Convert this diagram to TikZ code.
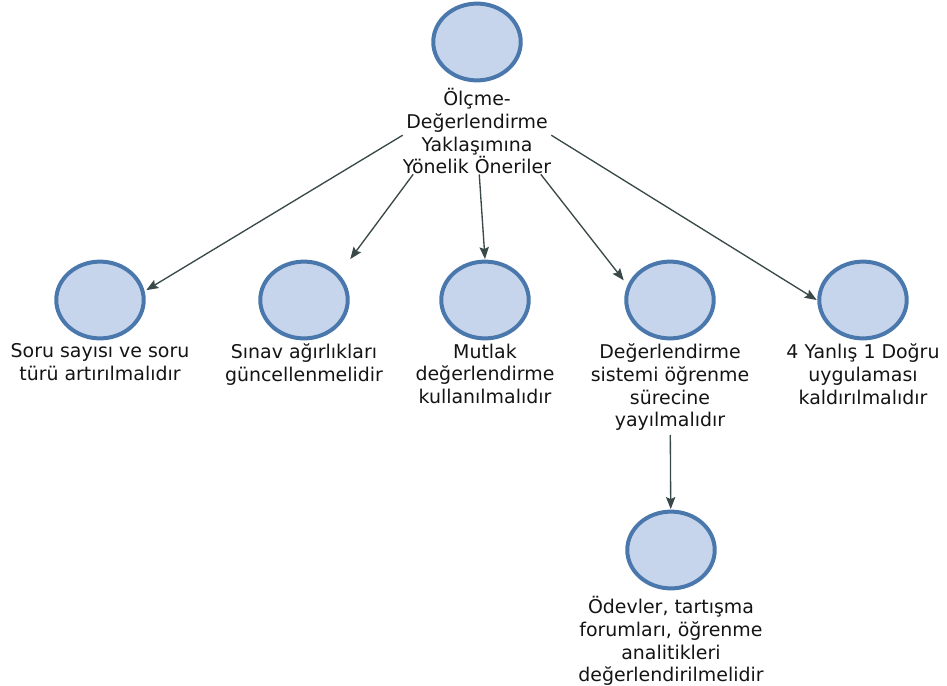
\documentclass[tikz,border=0pt]{standalone}
\usepackage{fontspec}
\setmainfont{DejaVu Sans}
\usetikzlibrary{positioning,arrows.meta}

\definecolor{bubfill}{HTML}{C6D5EB}
\definecolor{bubedge}{HTML}{4A78AC}
\definecolor{linkcol}{HTML}{394848}
\definecolor{txtcol}{HTML}{141414}

\tikzset{
  bubble/.style={rectangle, minimum width=69pt, minimum height=61pt, inner sep=0pt,
    path picture={\draw[fill=bubfill, draw=bubedge, line width=3pt]
      (path picture bounding box.center) ellipse (32.8pt and 28.8pt);}},
  caption/.style={align=center, inner sep=0pt, text=txtcol,
    font=\fontsize{14.2pt}{17pt}\selectfont},
  link/.style={draw=linkcol, line width=1pt,
    -{Stealth[length=9pt,width=7pt,inset=1.5pt]}}
}

\begin{document}
\begin{tikzpicture}[x=0.75pt,y=-0.75pt]
    \useasboundingbox (0,0) rectangle (947,686);

    % Main node
    \node[bubble] (top) at (477,42) {};
    \node[caption, below=4pt of top] (toplbl) {Ölçme-\\Değerlendirme\\Yaklaşımına\\Yönelik Öneriler};

    % Suggestions
    \node[bubble] (soru) at (100,300) {};
    \node[caption, below=2pt of soru] (sorulbl) {Soru sayısı ve soru\\türü artırılmalıdır};
    \node[bubble] (sinav) at (304,300) {};
    \node[caption, below=2pt of sinav] (sinavlbl) {Sınav ağırlıkları\\güncellenmelidir};
    \node[bubble] (mutlak) at (485,300) {};
    \node[caption, below=2pt of mutlak] (mutlaklbl) {Mutlak\\değerlendirme\\kullanılmalıdır};
    \node[bubble] (surec) at (670,300) {};
    \node[caption, below=2pt of surec] (sureclbl) {Değerlendirme\\sistemi öğrenme\\sürecine\\yayılmalıdır};
    \node[bubble] (yanlis) at (863,300) {};
    \node[caption, below=2pt of yanlis] (yanlislbl) {4 Yanlış 1 Doğru\\uygulaması\\kaldırılmalıdır};

    % Sub-suggestion
    \node[bubble] (odev) at (671,550) {};
    \node[caption, below=4pt of odev] (odevlbl) {Ödevler, tartışma\\forumları, öğrenme\\analitikleri\\değerlendirilmelidir};

    % Links
    \draw[link] (toplbl.183) -- (soru.12);
    \draw[link] (toplbl.214) -- (sinav.north east);
    \draw[link] (toplbl.273) -- (mutlak.north);
    \draw[link] (toplbl.326) -- (surec.157);
    \draw[link] (toplbl.357) -- (yanlis.west);
    \draw[link, shorten <=3pt] (sureclbl) -- (odev);
\end{tikzpicture}
\end{document}
